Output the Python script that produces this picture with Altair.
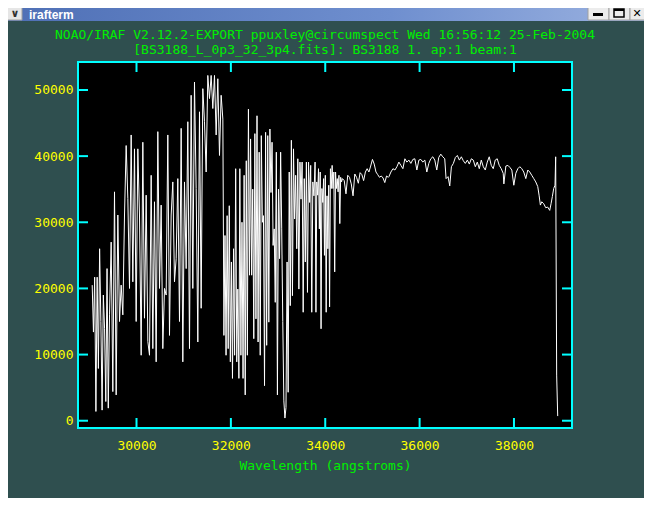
import altair as alt
import numpy as np
import pandas as pd

# ---------------- data (flux in thousands of counts) ----------------
# uniformly sampled pieces: (start wavelength, end wavelength, flux values)
SEG_A1 = [20.5, 13.4, 21.7, 1.4, 21.7, 7.9, 26.0, 15.0, 1.6, 19.0, 13.9, 2.9, 23.0, 1.9, 16.0]
SEG_A2 = [27.0, 4.4, 34.6, 3.9, 31.1, 15.0, 20.5, 16.0, 31.1, 41.6, 33.6, 20.0, 43.2, 21.0,
          41.1, 15.0, 41.1, 31.1, 9.9, 42.1, 15.5, 34.1, 12.0, 9.9, 37.1, 10.9, 33.1, 8.9,
          43.7, 20.0, 32.6, 10.9, 20.0, 19.0, 43.2, 12.9, 31.1, 36.1, 21.0, 24.5, 36.6, 15.0,
          44.2, 8.9, 36.1, 23.0, 45.2, 10.9, 49.2, 20.0, 51.2, 35.1, 11.9, 46.7, 17.0, 50.2,
          45.2, 37.6, 52.2, 48.7, 52.2, 47.2, 52.2, 43.2, 51.7, 40.1, 49.2]
SEG_B = [45.6, 12.9, 28.0, 9.9, 31.0, 10.9, 32.5, 8.9, 24.0, 6.4, 26.0, 9.9, 38.1, 8.9, 19.9, 6.4]
SEG_C = [38.1, 9.9, 30.0, 6.4, 37.1, 3.9, 39.3, 9.9, 47.1, 22.0, 42.6, 22.0, 35.0, 12.4,
         43.4, 15.4, 46.1, 11.9, 40.6, 9.9, 43.1, 30.0, 31.0, 5.3, 43.6, 11.4, 43.1, 14.9,
         44.1, 34.5, 42.1, 26.5, 29.0, 17.9, 40.6, 3.9, 35.0, 24.5, 40.6, 29.0, 15.0, 3.0,
         0.4, 2.0, 24.0, 4.3, 37.6, 17.4, 42.4, 18.9, 41.1, 30.5, 37.1, 26.0, 39.6, 19.9,
         39.1, 33.5, 39.1, 16.4, 36.6, 24.0, 39.1, 19.4, 39.1, 33.0, 38.6, 16.4, 36.1, 34.0]
SEG_D = [39.1, 16.4, 36.1, 34.1, 38.1, 29.0, 37.6, 13.9, 35.1, 33.0, 36.6, 25.0, 37.1, 16.4,
         34.0, 26.0, 35.6, 17.2, 38.1, 35.1, 38.6, 35.1, 37.6, 22.5, 37.6, 35.1, 36.6, 34.6,
         37.1, 29.8, 36.8, 36.1]
SEG_E1 = [36.6, 36.3, 34.3, 37.1, 36.8, 35.8, 34.0, 37.3, 36.8, 35.9, 37.5, 37.2, 36.3, 37.6,
          38.1, 37.6, 38.5, 39.5, 38.8, 37.6, 37.2, 36.8, 37.0, 36.7, 36.0, 37.0, 36.8]
SEGMENTS = [(29061, 29428, SEG_A1), (29463, 31794, SEG_A2), (31830, 32170, SEG_B),
            (32190, 33760, SEG_C), (33785, 34345, SEG_D), (34365, 35337, SEG_E1)]

# continuum part, explicit wavelengths
CONT_W = [35350, 35392, 35435, 35477, 35519, 35561, 35604, 35646, 35688, 35730, 35773, 35815,
          35857, 35899, 35942, 35984, 36026, 36068, 36111, 36153, 36195, 36237, 36280, 36322,
          36364, 36406, 36449, 36491, 36533, 36561, 36603, 36639, 36674, 36716, 36758, 36800,
          36843, 36885, 36927, 36969, 37012, 37054, 37096, 37138, 37181, 37223, 37265, 37307,
          37350, 37392, 37434, 37476, 37519, 37561, 37603, 37645, 37688, 37730, 37772, 37786,
          37828, 37871, 37913, 37955, 37997, 38039, 38082, 38124, 38166, 38208, 38251, 38293,
          38335, 38377, 38420, 38462, 38504, 38532, 38560, 38589, 38631, 38673, 38715, 38758,
          38786, 38814, 38842, 38870, 38884, 38905, 38927]
CONT_F = [36.9, 37.6, 38.1, 37.9, 38.4, 39.1, 38.6, 38.1, 39.6, 39.1, 39.4, 38.9, 39.5, 39.6,
          37.9, 39.4, 39.5, 39.1, 39.4, 37.6, 38.9, 39.6, 39.9, 39.4, 37.9, 39.8, 40.3, 39.9,
          39.6, 36.6, 36.9, 35.5, 38.4, 38.9, 39.8, 40.1, 39.4, 39.9, 39.3, 38.9, 39.4, 38.8,
          39.6, 39.4, 38.4, 39.1, 38.1, 39.4, 38.4, 37.9, 39.1, 39.9, 38.6, 38.1, 39.4, 39.6,
          38.6, 38.1, 37.4, 35.8, 38.5, 38.6, 38.3, 37.9, 35.6, 37.4, 38.1, 38.4, 38.1, 37.6,
          36.6, 37.9, 37.6, 37.1, 36.6, 36.1, 35.4, 34.1, 32.6, 33.1, 32.8, 32.2, 32.3, 31.8,
          32.8, 33.9, 35.1, 35.6, 39.9, 6.9, 0.7]

X_TICKS = [30000, 32000, 34000, 36000, 38000]
Y_TICKS = [0, 10000, 20000, 30000, 40000, 50000]
TITLE_1 = "NOAO/IRAF V2.12.2-EXPORT ppuxley@circumspect Wed 16:56:12 25-Feb-2004"
TITLE_2 = "[BS3188_L_0p3_32_3p4.fits]: BS3188 1. ap:1 beam:1"
X_TITLE = "Wavelength (angstroms)"
WINDOW_TITLE = "irafterm"

wl, fl = [], []
for s, e, vals in SEGMENTS:
    wl += list(np.linspace(s, e, len(vals)))
    fl += [v * 1000 for v in vals]
wl += CONT_W
fl += [v * 1000 for v in CONT_F]
df = pd.DataFrame({"wavelength": wl, "flux": fl})

# ---------------- styling ----------------
W, H = 494, 366
CYAN = "#00ffff"
YELLOW = "#ffff00"
GREEN = "#00f000"
MONO = "DejaVu Sans Mono"

xs = alt.Scale(domain=[28760, 39230], nice=False, zero=False)
ys = alt.Scale(domain=[-1100, 54230], nice=False, zero=False)

line = alt.Chart(df).mark_line(color="white", strokeWidth=1).encode(
    x=alt.X("wavelength:Q", scale=xs,
            axis=alt.Axis(values=X_TICKS, title=X_TITLE, format="d", labelPadding=11,
                          titlePadding=7, titleColor=GREEN, titleFont=MONO,
                          titleFontSize=13, titleFontWeight="normal")),
    y=alt.Y("flux:Q", scale=ys,
            axis=alt.Axis(values=Y_TICKS, title=None, format="d", labelPadding=5)),
)

xt = pd.DataFrame({"v": X_TICKS})
yt = pd.DataFrame({"v": Y_TICKS})
tick_kw = dict(color=CYAN, strokeWidth=2)
ticks = [
    alt.Chart(yt).mark_rule(**tick_kw).encode(y=alt.Y("v:Q", scale=ys), x=alt.value(0), x2=alt.value(10)),
    alt.Chart(yt).mark_rule(**tick_kw).encode(y=alt.Y("v:Q", scale=ys), x=alt.value(W - 10), x2=alt.value(W)),
    alt.Chart(xt).mark_rule(**tick_kw).encode(x=alt.X("v:Q", scale=xs), y=alt.value(H - 10), y2=alt.value(H)),
    alt.Chart(xt).mark_rule(**tick_kw).encode(x=alt.X("v:Q", scale=xs), y=alt.value(0), y2=alt.value(10)),
]

one = alt.Data(values=[{}])

# plot title: two centred green lines
title_lines = alt.Chart(alt.Data(values=[{"t": TITLE_1, "yy": -27}, {"t": TITLE_2, "yy": -12}])).mark_text(
    font=MONO, fontSize=13, color=GREEN, align="center", baseline="middle"
).encode(text="t:N", x=alt.value(W / 2), y=alt.Y("yy:Q", scale=None))

# ---------------- window decoration (title bar of the xterm) ----------------
bar_grad = alt.Gradient(gradient="linear", x1=0, x2=1, y1=0, y2=0,
                        stops=[alt.GradientStop(color="#4e6fb5", offset=0),
                               alt.GradientStop(color="#6f8fcf", offset=0.6),
                               alt.GradientStop(color="#9bb2e0", offset=1)])
title_bar = alt.Chart(one).mark_rect(fill=bar_grad).encode(
    x=alt.value(-78), x2=alt.value(574), y=alt.value(-62), y2=alt.value(-41))
left_btn = alt.Chart(one).mark_rect(fill="#e6e6e6", stroke="#a0a0a0").encode(
    x=alt.value(-78), x2=alt.value(-56), y=alt.value(-62), y2=alt.value(-42))
right_btns = alt.Chart(alt.Data(values=[{"a": 510}, {"a": 531}, {"a": 552}])).mark_rect(
    fill="#ececec", stroke="#a0a0a0").encode(
    x=alt.X("a:Q", scale=None), x2=alt.X2("b:Q"), y=alt.value(-62), y2=alt.value(-42)
).transform_calculate(b="datum.a + 21")
min_icon = alt.Chart(one).mark_rect(fill="black").encode(
    x=alt.value(515), x2=alt.value(525), y=alt.value(-49), y2=alt.value(-46))
max_icon = alt.Chart(one).mark_rect(fill=None, stroke="black", strokeWidth=1.5).encode(
    x=alt.value(536), x2=alt.value(546), y=alt.value(-53), y2=alt.value(-45))
max_top = alt.Chart(one).mark_rect(fill="black").encode(
    x=alt.value(536), x2=alt.value(546), y=alt.value(-53), y2=alt.value(-51))
close_icon = alt.Chart(one).mark_text(text="✕", font="DejaVu Sans", fontSize=11,
                                      fontWeight="bold", color="black").encode(
    x=alt.value(559), y=alt.value(-48))
drop_icon = alt.Chart(one).mark_text(text="∨", font="DejaVu Sans", fontSize=11,
                                     fontWeight="bold", color="#303030").encode(
    x=alt.value(-63), y=alt.value(-48))
win_title = alt.Chart(one).mark_text(text=WINDOW_TITLE, font="Liberation Sans", fontSize=12,
                                     fontWeight="bold", color="white", align="left",
                                     baseline="alphabetic").encode(
    x=alt.value(-49), y=alt.value(-43))

chart = alt.layer(
    line, *ticks, title_lines, title_bar, left_btn, right_btns, min_icon, max_icon, max_top,
    close_icon, drop_icon, win_title
).properties(
    width=W, height=H,
    background="#2f4f4f",
    padding={"left": 70, "top": 54, "right": 72, "bottom": 70},
    autosize=alt.AutoSizeParams(type="none"),
).configure_view(
    fill="black", stroke=CYAN, strokeWidth=2
).configure_axis(
    grid=False, ticks=False, domain=False, labelColor=YELLOW, labelFont=MONO,
    labelFontSize=13
)

chart.save("out.html", embed_options={"renderer": "svg", "actions": False})
